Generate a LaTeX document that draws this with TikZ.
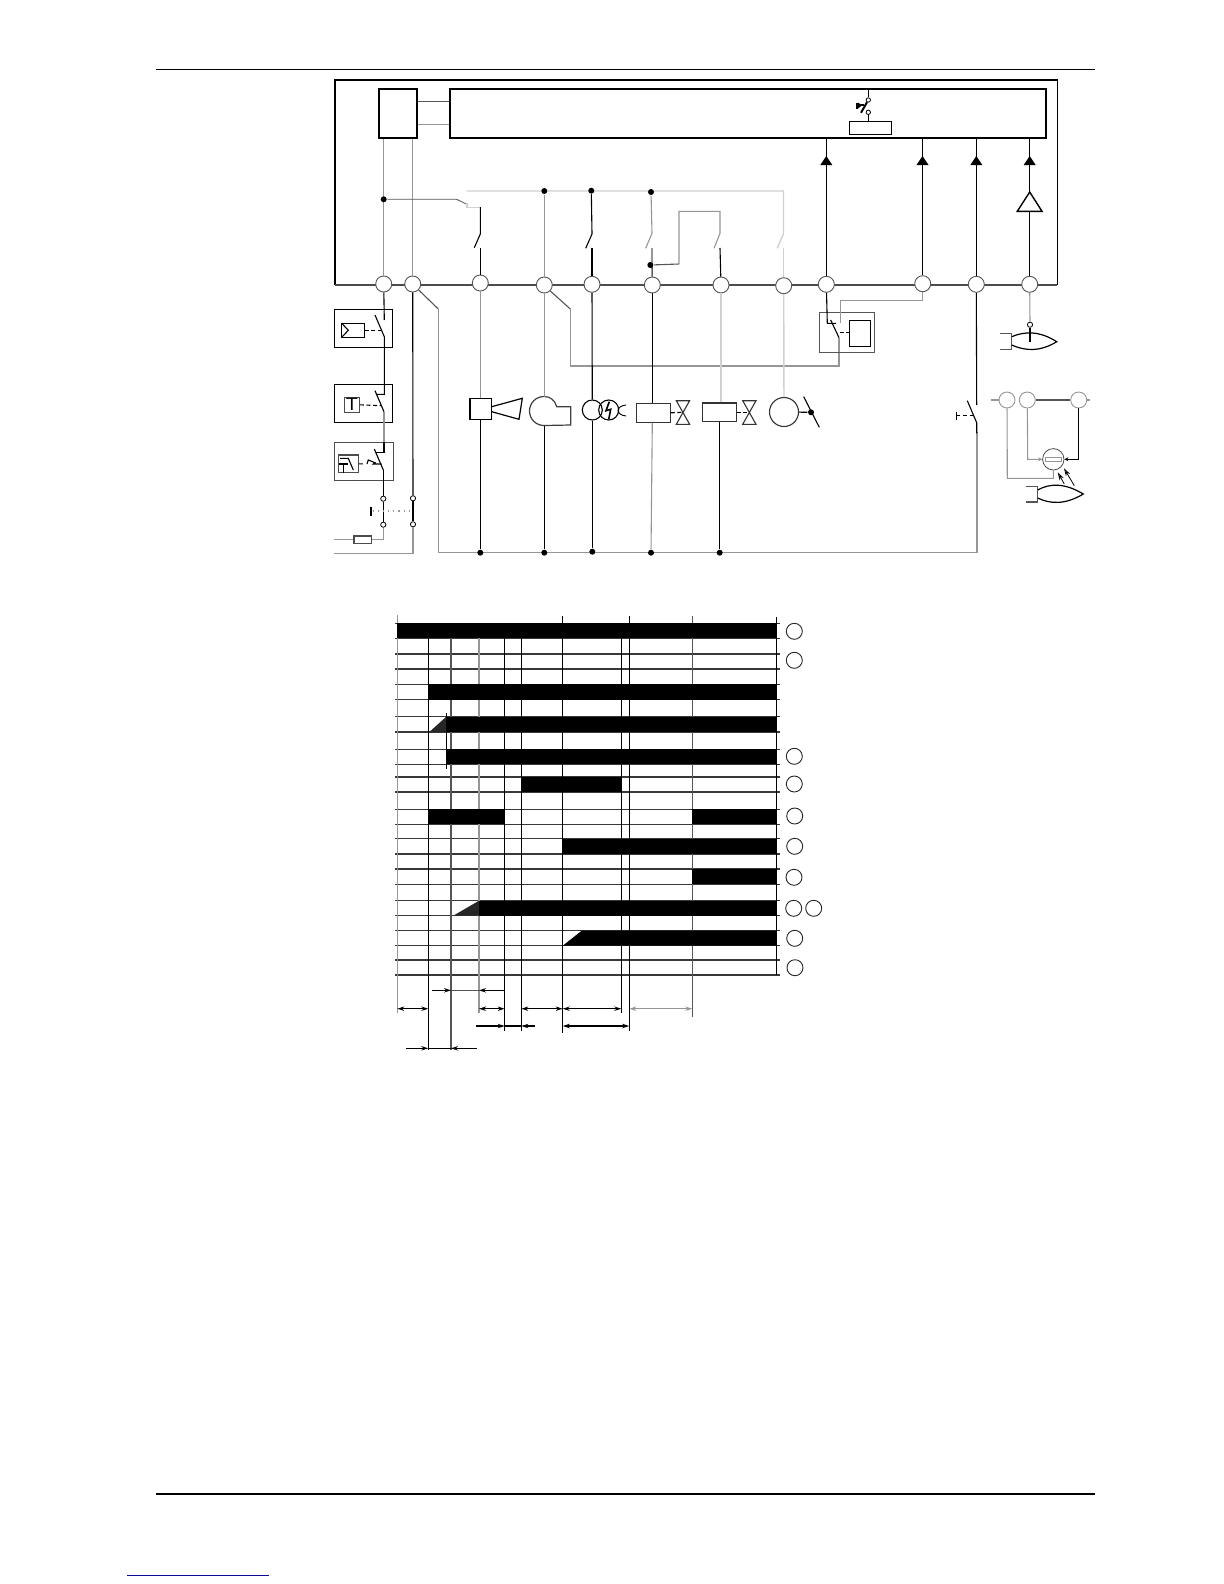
\documentclass[tikz,border=0pt]{standalone}
\usepackage{tikz}
\usetikzlibrary{arrows.meta,positioning,shapes.geometric}
\definecolor{wiregray}{RGB}{150,150,150}
\definecolor{wirepale}{RGB}{208,208,208}
\definecolor{wiredark}{RGB}{85,85,85}
\definecolor{linkblue}{RGB}{10,10,150}

\begin{document}
\begin{tikzpicture}[x=0.5bp,y=-0.5bp,line width=0.55bp,>={Stealth[length=3.5bp,width=2.2bp]},
    term/.style={draw=wiredark,circle,fill=white,inner sep=0pt,minimum size=8bp,line width=0.45bp},
    smallterm/.style={draw,circle,fill=white,inner sep=0pt,minimum size=2.6bp,line width=0.4bp},
    dotnode/.style={circle,fill=black,inner sep=0pt,minimum size=3bp},
    boxnode/.style 2 args={draw,rectangle,inner sep=0pt,minimum width=#1*0.5bp,minimum height=#2*0.5bp},
    graywire/.style={draw=wiregray},
    palewire/.style={draw=wirepale,line width=0.7bp},
    darkwire/.style={draw=wiredark},
    linkdash/.style={dash pattern=on 2bp off 1.3bp},
    gridline/.style={draw=black!78,line width=0.6bp},
    chartv/.style={line width=0.6bp},
    bar/.style={fill=black}]
    \useasboundingbox (0,0) rectangle (1224,1584);

    % page rules
    \draw[line width=0.6bp] (156,69.3) -- (1095,69.3);
    \draw[line width=0.8bp] (156,1494) -- (1095,1494);
    \draw[linkblue,line width=0.7bp] (127,1575.3) -- (269,1575.3);

    % frame and the two boxes
    \draw[line width=0.8bp] (334.7,285) -- (334.7,80) -- (1057.3,80) -- (1057.3,285);
    \draw[draw=black!70,line width=1.1bp] (334.7,285) -- (1057.3,285);
    \node[boxnode={38}{49},line width=1bp] (ctrl) at (397.7,113.8) {};
    \node[boxnode={596.3}{49},line width=1bp] (mainbox) at (748.2,113.8) {};
    \draw[darkwire] (ctrl.east |- 0,101.3) -- (mainbox.west |- 0,101.3);
    \draw[graywire] (ctrl.east |- 0,124.3) -- (mainbox.west |- 0,124.3);

    % terminals on the frame
    \foreach \name/\x/\y in {T1/383.7/284,T2/412.7/284,T3/480.3/283,T4/544.3/285,T5/592/284.3,T6/652.3/285,
        T7/721/285,T8/783.7/285.7,T9/826.3/284.3,T10/922.7/283.7,T11/976.3/284.3,T12/1029.7/284.3}
        \node[term] (\name) at (\x,\y) {};

    % top side wiring
    \draw[graywire] (T1) -- (T1 |- ctrl.south);
    \draw[graywire] (T2) -- (T2 |- ctrl.south);
    \node[dotnode] (Dtop) at (383.7,199.3) {};
    \draw[darkwire,line width=0.4bp] (Dtop) -- (456.7,199.3) -- (468.3,205);
    \draw[palewire] (467,203) -- (467,207.5) -- (480.3,207.5);
    \coordinate (busL) at (466.7,191);
    \coordinate (busR) at (783.5,191);
    \draw[palewire] (busL) -- (busR) -- (783.5,233.3) -- (777.3,248.3);
    \draw[palewire] (783.7,248) -- (T8);
    \node[dotnode] (D4) at (544.3,191) {};
    \node[dotnode] (D5) at (591.3,190.7) {};
    \node[dotnode] (D6) at (651,192) {};
    \draw (480.3,207) -- (480.3,234) -- (474.3,247.7);
    \draw (480.3,248) -- (T3);
    \draw[graywire] (D4) -- (T4);
    \draw (D5) -- (592,234) -- (585.7,248.3);
    \draw (592,248) -- (T5);
    \draw[graywire] (D6) -- (652,233.3) -- (645.7,248.3);
    \draw[graywire] (652,248) -- (652,266);
    \draw (652,266) -- (T6);
    \node[dotnode] (D7) at (650.3,265) {};
    \draw[darkwire] (D7) -- (679,264);
    \draw[graywire] (679,264) -- (679,211.3) -- (720,211.3) -- (720,233.3) -- (714,248.3);
    \draw (720,248) -- (T7);

    % contact inside the main box
    \node[boxnode={42.4}{12.6}] (relaybox) at (870.5,128) {};
    \node[smallterm,minimum size=2.2bp] (swtop) at (868.3,100) {};
    \node[smallterm,minimum size=2.2bp] (swbot) at (868.3,112.3) {};
    \draw (868.3,89.3) -- (swtop);
    \draw (swbot) -- (relaybox.north -| swbot);
    \draw[line width=1bp] (swtop) -- (861,112.7);
    \draw[line width=1bp] (857,105.3) -- (864,105.3);
    \draw[line width=0.7bp] (857,102.5) -- (857,108.5);
    \fill (858,102.5) -- (862,105.3) -- (858,108.5) -- cycle;

    % arrows into the main box
    \draw (T9) -- (T9 |- mainbox.south);
    \draw (T10) -- (T10 |- mainbox.south);
    \draw (T11) -- (T11 |- mainbox.south);
    \coordinate (amptop) at (1029.7,192);
    \coordinate (ampbase) at (1029.7,211.3);
    \draw (T12) -- (ampbase);
    \draw (amptop) -- (amptop |- mainbox.south);
    \draw[line width=0.7bp] (amptop) -- (1042,211.3) -- (1017.3,211.3) -- cycle;
    \foreach \x in {826.3,922.5,976.3,1029.7}
        \fill (\x,156) -- (\x+6,165) -- (\x-6,165) -- cycle;

    % left chain with the three guarded contacts
    \node[boxnode={58.4}{38}] (guardA) at (363.5,328.3) {};
    \node[boxnode={58.4}{38.3}] (guardB) at (363.5,403.2) {};
    \node[boxnode={59}{38.4},draw=black!70] (guardC) at (364.2,461.5) {};
    \node[boxnode={22.6}{14}] (sensA) at (353,330.3) {};
    \draw (341.7,323.3) -- (348.3,330.3) -- (341.7,337.3);
    \draw[linkdash] (sensA.east) -- (382,330.3);
    \node[boxnode={14.6}{15},draw=black!70,font=\sffamily\small] (sensB) at (352,404.8) {T};
    \draw[linkdash] (sensB.east) -- (381,405.7);
    \node[boxnode={20}{17.7},draw=black!70] (sensC) at (348.3,463.8) {};
    \draw (340,458.3) -- (348.3,458.3) -- (353.3,470);
    \draw (339,464) -- (348.3,464);
    \draw (343.3,464) -- (343.3,472.7);
    \draw[linkdash] (sensC.east) -- (365,464);
    \draw (367,464) -- (368.3,460) -- (375,462.7) -- (373.3,464) -- (381.5,464);
    \draw (T1) -- (384.3,320);
    \draw (375,315) -- (384.3,336.7) -- (384.3,394.3) -- (376,394.3);
    \draw (375,390.7) -- (384,411.7);
    \draw[graywire] (384,411.7) -- (384,442.3);
    \draw (384,442.3) -- (384,452.3) -- (376,452.3);
    \draw (374.3,449) -- (383.3,470);
    \node[smallterm] (S1a) at (383.3,498.7) {};
    \node[smallterm] (S1b) at (383.3,524.7) {};
    \node[smallterm] (S2a) at (413,498.3) {};
    \node[smallterm] (S2b) at (413,524.3) {};
    \draw (383.3,470) -- (S1a);
    \draw (T2) -- (S2a);
    \draw[line width=0.8bp] (S1a) -- (S1b);
    \draw[line width=0.8bp] (S2a) -- (S2b);
    \draw[wiregray,dotted] (373,511) -- (412,511);
    \draw[line width=0.8bp] (371,506.7) -- (371,515.7);
    \node[boxnode={17.7}{7.3},draw=black!70] (fuse) at (362.8,539.6) {};
    \draw[graywire] (S1b) |- (fuse.east);
    \draw[graywire] (fuse.west) -- (334.3,539.6);
    \draw[graywire] (S2b) |- (334.3,553.3);

    % bottom return line
    \coordinate (retL) at (438.3,309);
    \draw[darkwire] (T2.south east) -- (retL);
    \draw[graywire] (retL) -- (438.3,552.7) -- (977,552.7) -- (977,431.7);

    % consumers
    \node[boxnode={21.7}{21},line width=0.65bp] (blower) at (480.8,408.8) {};
    \draw[line width=0.6bp] (491.7,406.7) -- (522.3,398.3) -- (519,419.3) -- (491.7,411.7);
    \node[dotnode] (B3) at (480.3,552.7) {};
    \draw[graywire] (T3) -- (blower.north -| T3);
    \draw (blower.south -| B3) -- (B3);
    \draw[line width=0.6bp,draw=black!75] (544,425.5) .. controls (536,425.5) and (529.5,419) .. (529.5,411)
        .. controls (529.5,403) and (536,396.5) .. (544,396.5) .. controls (550,396.5) and (555,400) .. (556.7,406.7)
        -- (570.7,406.7) -- (570.7,425) -- cycle;
    \node[dotnode] (B4) at (544.3,552.7) {};
    \draw[graywire] (T4) -- (544.3,396.5);
    \draw (544.3,425.5) -- (B4);
    \coordinate (retA) at (570.3,309);
    \draw[darkwire] (T4.south east) -- (retA);
    \draw[graywire] (retA) -- (570.3,366) -- (839,366) -- (839,337.7);

    \node[draw,circle,inner sep=0pt,minimum size=10bp] (ignA) at (592.3,410) {};
    \node[draw,circle,inner sep=0pt,minimum size=10bp] (ignB) at (608.7,410) {};
    \draw[line width=0.8bp] (609.3,401.7) -- (606,410.7) -- (610.7,409.3) -- (608.7,419.3);
    \draw[line width=0.45bp] (626,405) .. controls (621,405.5) and (618,408) .. (618,410.5)
        .. controls (618,413) and (621,415.5) .. (626,416);
    \node[dotnode] (B5) at (592.3,551.7) {};
    \draw (T5) -- (ignA);
    \draw (ignA) -- (B5);

    \node[boxnode={34}{19},draw=black!80] (valveA) at (653.3,412.8) {};
    \node[dotnode] (B6) at (651,552.7) {};
    \draw (T6) -- (valveA.north -| T6);
    \draw[graywire] (valveA.south -| T6) -- (B6);
    \node[boxnode={34}{18.7},draw=black!80] (valveB) at (719.3,412.3) {};
    \node[dotnode] (B7) at (719.7,552.7) {};
    \draw[palewire] (T7) -- (valveB.north -| T7);
    \draw (valveB.south -| B7) -- (B7);
    \foreach \x/\src in {676.3/valveA,742.7/valveB} {
        \draw[draw=black!80] (\x,400.7) -- (\x+13.3,400.7) -- (\x,424.3) -- (\x+13.3,424.3) -- cycle;
        \draw[linkdash] (\src.east) -- (\x+6.7,412.3);
    }

    \node[draw=black!80,circle,inner sep=0pt,minimum size=14.5bp] (flap) at (784,412) {};
    \node[dotnode] (flapdot) at (811,412.3) {};
    \draw[palewire] (T8) -- (flap);
    \draw (flap) -- (flapdot);
    \draw (803.7,396.7) -- (819.3,427.3);

    % relay below T9
    \node[boxnode={55.4}{40.4},draw=wiredark] (relayout) at (847,332.5) {};
    \node[boxnode={21.4}{26},line width=0.65bp] (relayin) at (860,333.3) {};
    \coordinate (relayA) at (827.3,323.3);
    \draw (T9) -- (relayA) -- (836,323.3);
    \draw (830.7,320) -- (839,337.7);
    \draw[linkdash] (839.5,332.7) -- (relayin.west |- 0,332.7);
    \draw[graywire] (T10) -- (922.7,300.7) -- (840.3,300.7) -- (840.3,323.3);

    % hand switch
    \draw (T11) -- (976.7,405);
    \draw (967.3,400.7) -- (976.7,422.7) -- (976.7,433.3);
    \draw[linkdash] (956.3,415.7) -- (973,415.7);
    \draw (956.3,411.7) -- (956.3,420);

    % flame on T12
    \node[smallterm] (probe) at (1030,324.7) {};
    \draw[graywire] (T12) -- (probe);
    \draw[line width=0.9bp] (probe) -- (1030,341.7);
    \draw[darkwire] (1000.3,333.7) -- (1011.7,333.7) -- (1011.7,349.3) -- (1000.3,349.3);
    \draw[line width=0.6bp] (1011.7,336.7) .. controls (1025,331) and (1040,331) .. (1056.7,341.7)
        .. controls (1040,352) and (1025,351) .. (1011.7,345);

    % detector group on the right
    \foreach \name/\x in {R1/1007,R2/1027.3,R3/1078.7}
        \node[term,draw=wiregray] (\name) at (\x,400) {};
    \draw[graywire] (990.7,400) -- (R1);
    \draw[darkwire,line width=0.7bp] (R2) -- (R3);
    \draw[graywire] (R3) -- (1090,400);
    \node[draw=black!70,circle,inner sep=0pt,minimum size=10.7bp,line width=0.4bp] (det) at (1053.3,459.3) {};
    \node[boxnode={15.7}{4.4},draw=wiregray,line width=0.35bp] (detres) at (1053.2,459.5) {};
    \draw[graywire] (R1) -- (1007.3,478.3) -- (1053.3,478.3) -- (det);
    \draw[graywire,-{Stealth[length=2bp,width=2bp]}] (R2) -- (1027.7,459.3) -- (det.west);
    \draw[-{Stealth[length=2bp,width=2bp]}] (R3) -- (1078.7,459.3) -- (det.east);
    \draw[<-,>={Stealth[length=4bp,width=2.4bp,open]},line width=0.4bp] (1057.7,472.3) -- (1064.3,484);
    \draw[<-,>={Stealth[length=4bp,width=2.4bp,open]},line width=0.4bp] (1064,468.3) -- (1074.3,485.7);
    \draw[darkwire] (1026.3,486.3) -- (1037.7,486.3) -- (1037.7,502) -- (1026.3,502);
    \draw[line width=0.6bp] (1037.7,490) .. controls (1050,483) and (1065,483) .. (1083.3,494)
        .. controls (1065,505) and (1050,504) .. (1037.7,498);

    % timing chart
    \foreach \y in {623.3,638.3,654,669,684.3,699.7,716.7,732,749.3,764.3,777,792,809.3,824.3,838.7,854,869,884.3,900.7,915.7,930.7,945.7,960,975}
        \draw[gridline] (395,\y) -- (780,\y);
    \draw[chartv,draw=wiregray] (397.3,615) -- (397.3,1012.7);
    \draw[chartv] (428.3,638) -- (428.3,1050);
    \draw[chartv,draw=wiredark] (451,638) -- (451,1050);
    \draw[chartv,draw=wiregray] (479,638) -- (479,1012.7);
    \draw[chartv] (504.7,638) -- (504.7,1030.7);
    \draw[chartv] (521.3,638) -- (521.3,1030.7);
    \draw[chartv] (562.7,616) -- (562.7,1033);
    \draw[chartv] (621.3,638) -- (621.3,1012.7);
    \draw[chartv] (629.3,616) -- (629.3,1030.7);
    \draw[chartv,draw=wiredark] (692.3,616) -- (692.3,1017);
    \draw[chartv] (776.5,617) -- (776.5,975);

    \fill[bar] (397.3,623.3) rectangle (776.7,638.3);
    \fill[bar] (428.3,684.3) rectangle (775.7,699.7);
    \fill[black!85] (429.3,732) -- (446.3,716.7) -- (446.3,732) -- cycle;
    \fill[bar] (446.3,716.7) rectangle (775.7,732);
    \fill[bar] (446.3,749.3) rectangle (775.7,764.3);
    \fill[bar] (521.3,777) rectangle (621.7,792);
    \fill[bar] (428.3,809.3) rectangle (504.7,824.3);
    \fill[bar] (691.7,809.3) rectangle (776.7,824.3);
    \fill[bar] (562.7,838.7) rectangle (776.7,854);
    \fill[bar] (691.7,869) rectangle (776.7,884.3);
    \fill[black!85] (453.3,915.7) -- (479,900.7) -- (479,915.7) -- cycle;
    \fill[bar] (479,900.7) rectangle (776.7,915.7);
    \fill[bar] (562.7,945.7) -- (581.7,930.7) -- (776.7,930.7) -- (776.7,945.7) -- cycle;
    \draw[chartv] (446.3,713.3) -- (446.3,769.3);

    % measures below the chart
    \foreach \xa/\xb/\y in {397.3/428.3/1008.7,479/504.7/1008.7,521.3/562.7/1008.7,562.7/621.3/1008.7,562.7/629.3/1026}
        \draw[<->] (\xa,\y) -- (\xb,\y);
    \draw[<->,draw=wiregray] (629.3,1008.7) -- (692.3,1008.7);
    \draw[->] (432.3,990.3) -- (451,990.3);
    \draw[<-] (479,990.3) -- (504.7,990.3);
    \draw[darkwire] (451,990.3) -- (479,990.3);
    \draw[->] (475.7,1026) -- (504.7,1026);
    \draw (504.7,1026) -- (521.3,1026);
    \draw[<-] (521.3,1026) -- (535,1026);
    \draw[->] (406,1048.3) -- (428.3,1048.3);
    \draw (428.3,1048.3) -- (451,1048.3);
    \draw[<-] (451,1048.3) -- (476.7,1048.3);

    % row marks
    \foreach \name/\x/\y in {M1/794.3/631.3,M2/794.3/660.3,M3/794.3/756.3,M4/794.3/784,M5/794.7/816,M6/794.7/846.3,
        M7/794/877.3,M8/793.7/908.3,M9/813.7/908.3,M10/794.7/938.3,M11/795/967.7}
        \node[term,draw=black!85] (\name) at (\x,\y) {};
\end{tikzpicture}
\end{document}
